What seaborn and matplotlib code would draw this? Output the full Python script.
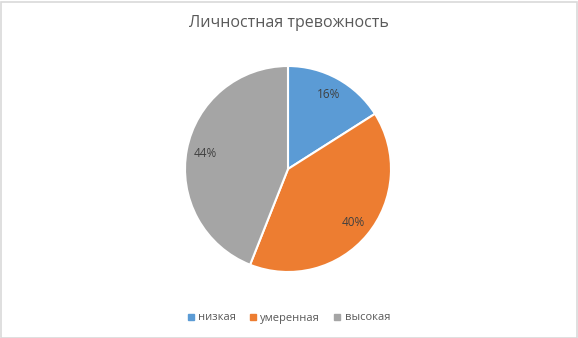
import matplotlib
matplotlib.use("Agg")
import matplotlib.pyplot as plt
import seaborn as sns
from matplotlib.patches import Rectangle
from matplotlib.lines import Line2D

title = "Личностная тревожность"
categories = ["низкая", "умеренная", "высокая"]
values = [16, 40, 44]
colors = ["#5B9BD5", "#ED7D31", "#A5A5A5"]

sns.set_theme(style="white")
plt.rcParams['font.family'] = ['Open Sans', 'DejaVu Sans']

W, H = 578, 338
fig = plt.figure(figsize=(W / 100, H / 100), dpi=100)
fig.patch.set_facecolor("white")

cx, cy, r = 288, 169, 103
ax = fig.add_axes([(cx - r) / W, (H - cy - r) / H, 2 * r / W, 2 * r / H])
wedges, texts, autotexts = ax.pie(
    values, colors=colors, startangle=90, counterclock=False,
    autopct=lambda p: f"{p:.0f}%", pctdistance=0.82,
    wedgeprops=dict(edgecolor="white", linewidth=1.5),
    textprops=dict(color="#404040", fontsize=8.5))
ax.set_xlim(-1, 1)
ax.set_ylim(-1, 1)
ax.set_aspect("equal")
ax.axis("off")

fig.text(0.5, 1 - 23 / H, title, ha="center", va="center",
         fontsize=11.5, color="#595959")

handles = [Line2D([0], [0], marker="s", linestyle="none", markersize=4.5,
                  markerfacecolor=c, markeredgecolor=c) for c in colors]
fig.legend(handles, categories, loc="center", bbox_to_anchor=(0.5, 1 - 318 / H),
           ncol=3, frameon=False, fontsize=8, labelcolor="#595959",
           handlelength=0.5, handletextpad=0.4, columnspacing=1.3)

fig.patches.append(Rectangle((0.5 / W, 0.5 / H), 1 - 1.5 / W, 1 - 2.5 / H,
                             transform=fig.transFigure, fill=False,
                             edgecolor="#D9D9D9", linewidth=1.2))

fig.savefig("out.png", dpi=100, facecolor="white")
